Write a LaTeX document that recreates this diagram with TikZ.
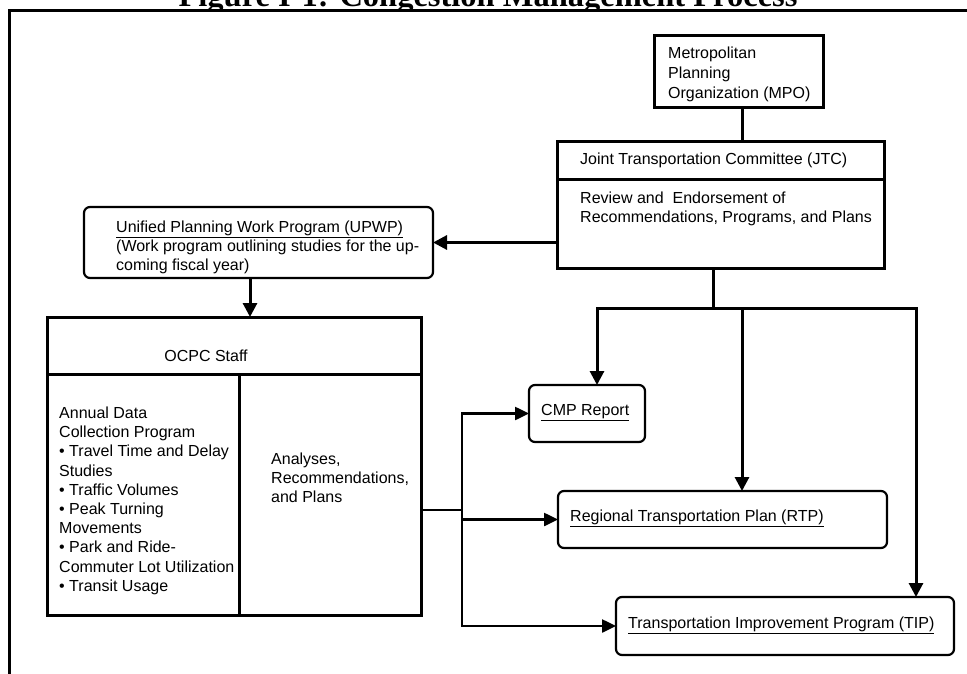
\documentclass[tikz,border=0pt]{standalone}
\usepackage{fontspec}
\setmainfont{Liberation Sans}
\newfontfamily\titlefont{Liberation Serif}
\usetikzlibrary{arrows.meta,calc}
\tikzset{
  sqbox/.style={draw, line width=3pt, rectangle, inner sep=0pt, outer sep=0pt, anchor=north west},
  rbox/.style={draw, line width=2.2pt, rectangle, rounded corners=6pt, inner sep=0pt, outer sep=0pt, anchor=north west},
  txt/.style={inner sep=0pt, align=left, font=\fontsize{16}{19.2}\selectfont, anchor=north west},
  utxt/.style={inner sep=0pt, font=\fontsize{16}{19.2}\selectfont, anchor=base west},
  conn/.style={line width=3pt, line cap=rect},
  arr/.style={line width=3pt, -{Triangle[length=14pt,width=14pt]}},
  conn2/.style={line width=2.5pt, line cap=rect},
  arr2/.style={line width=2.5pt, -{Triangle[length=14pt,width=13pt]}},
}
\begin{document}
\begin{tikzpicture}[x=1pt,y=-1pt]
\useasboundingbox (0,0) rectangle (967,674);
% frame and clipped title
\begin{scope}
\clip (0,0) rectangle (967,11);
\node[font=\titlefont\bfseries\fontsize{32.5}{36}\selectfont, anchor=base, inner sep=0pt] (title) at (488,7) {Figure I-1: Congestion Management Process};
\end{scope}
\draw[line width=3pt, line join=miter] (9,690) -- (9,11) -- (980,11);

% boxes
\node[sqbox, minimum width=169pt, minimum height=72pt] (mpo) at (654,36) {};
\node[sqbox, minimum width=327pt, minimum height=126pt] (jtc) at (557,142) {};
\node[rbox, minimum width=349pt, minimum height=71pt] (upwp) at (84,207) {};
\node[sqbox, minimum width=374pt, minimum height=298pt] (ocpc) at (47,317) {};
\node[rbox, minimum width=116pt, minimum height=57pt] (cmp) at (529,385) {};
\node[rbox, minimum width=329pt, minimum height=57pt] (rtp) at (558,491) {};
\node[rbox, minimum width=338pt, minimum height=58pt] (tip) at (616,597) {};

% internal dividers
\coordinate (jtcdiv) at (0,180);
\draw[line width=3pt] (jtc.west |- jtcdiv) -- (jtc.east |- jtcdiv);
\coordinate (ocpcdiv) at (239,374);
\draw[line width=3pt] (ocpc.west |- ocpcdiv) -- (ocpc.east |- ocpcdiv);
\draw[line width=3pt] (ocpcdiv) -- (ocpcdiv |- ocpc.south);

% texts
\node[txt, font=\fontsize{16}{20}\selectfont] (mpot) at (668,46.8) {Metropolitan\\Planning\\Organization (MPO)};
\node[txt] (jtct) at (580,152.8) {Joint Transportation Committee (JTC)};
\node[txt, font=\fontsize{16}{19}\selectfont] (jtcb) at (580,191.8) {Review and\ \ Endorsement of\\Recommendations, Programs, and Plans};
\node[txt, font=\fontsize{16}{19}\selectfont] (upwpt) at (116,220.8) {\underline{Unified Planning Work Program (UPWP)}\\(Work program outlining studies for the up-\\coming fiscal year)};
\node[inner sep=0pt, font=\fontsize{16}{19.2}\selectfont] (ocpct) at (206,356) {OCPC Staff};
\node[txt] (ocpcl) at (59,406.8) {Annual Data\\Collection Program\\• Travel Time and Delay\\Studies\\• Traffic Volumes\\• Peak Turning\\Movements\\• Park and Ride-\\Commuter Lot Utilization\\• Transit Usage};
\node[txt, font=\fontsize{16}{19}\selectfont] (ocpcr) at (271,452.8) {Analyses,\\Recommendations,\\and Plans};
\node[utxt] (cmpt) at (541,415.5) {\underline{CMP Report}};
\node[utxt] (rtpt) at (570,521.5) {\underline{Regional Transportation Plan (RTP)}};
\node[utxt] (tipt) at (628,628.5) {\underline{Transportation Improvement Program (TIP)}};

% connectors top
\draw[conn] ([xshift=3.5pt]mpo.south) -- ([xshift=3.5pt]mpo.south |- jtc.north);
\draw[arr] (jtc.west |- upwp.east) -- (upwp.east);
\draw[arr] ([xshift=-8.5pt]upwp.south) -- ([xshift=-8.5pt]upwp.south |- ocpc.north);

% JTC distribution bus
\coordinate (bus) at (713,308);
\coordinate (cmpin) at ([xshift=10pt]cmp.north);
\coordinate (rtpin) at ([xshift=19.5pt]rtp.north);
\coordinate (tipin) at ([xshift=131pt]tip.north);
\draw[conn] ([xshift=-7.5pt]jtc.south) -- (bus);
\draw[conn] (bus -| cmpin) -- (bus -| tipin);
\draw[arr] (bus -| cmpin) -- (cmpin);
\draw[arr] (bus -| rtpin) -- (rtpin);
\draw[arr] (bus -| tipin) -- (tipin);

% OCPC distribution
\coordinate (split) at (462,510);
\draw[conn2] (ocpc.east |- split) -- (split);
\draw[conn2] (split |- cmp.west) -- (split |- tip.west);
\draw[arr2] (split |- cmp.west) -- (cmp.west);
\draw[arr2] (split |- rtp.west) -- (rtp.west);
\draw[arr2] (split |- tip.west) -- (tip.west);
\end{tikzpicture}
\end{document}
